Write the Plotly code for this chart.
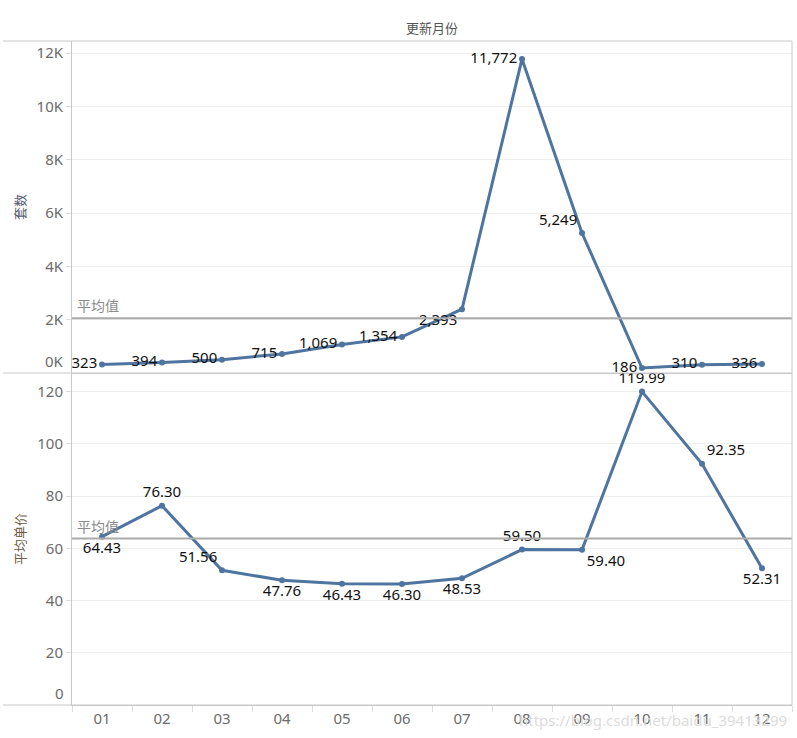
import numpy as np
import plotly.graph_objects as go
from plotly.subplots import make_subplots

months = ["01", "02", "03", "04", "05", "06", "07", "08", "09", "10", "11", "12"]
counts = [323, 394, 500, 715, 1069, 1354, 2393, 11772, 5249, 186, 310, 336]
prices = [64.43, 76.30, 51.56, 47.76, 46.43, 46.30, 48.53, 59.50, 59.40, 119.99, 92.35, 52.31]

count_ticks = [2000, 4000, 6000, 8000, 10000, 12000]
count_tick_text = ["2K", "4K", "6K", "8K", "10K", "12K"]
price_ticks = [20, 40, 60, 80, 100, 120]

count_label_pos = ["middle left"] * 6 + ["bottom left", "middle left", "top left",
                                         "middle left", "middle left", "middle left"]
price_label_pos = ["bottom center", "top center", "top left", "bottom center", "bottom center",
                   "bottom center", "bottom center", "top center", "bottom right", "top center",
                   "top right", "bottom center"]

LINE = "#4e74a0"
GRAY_TXT = "#6b6b6b"
BORDER = "#c8c8c8"
GRID = "#efefef"
FONT = "Noto Sans, Noto Sans CJK SC, sans-serif"

fig = make_subplots(rows=2, cols=1, shared_xaxes=True, vertical_spacing=0)

fig.add_trace(go.Scatter(
    x=months, y=counts, mode="lines+markers+text",
    line=dict(color=LINE, width=3), marker=dict(color=LINE, size=6),
    text=[f"{v:,}" for v in counts], textposition=count_label_pos,
    textfont=dict(color="#111111", size=15, family=FONT),
    cliponaxis=False, showlegend=False), row=1, col=1)

fig.add_trace(go.Scatter(
    x=months, y=prices, mode="lines+markers+text",
    line=dict(color=LINE, width=3), marker=dict(color=LINE, size=6),
    text=[f"{v:.2f}" for v in prices], textposition=price_label_pos,
    textfont=dict(color="#111111", size=15, family=FONT),
    cliponaxis=False, showlegend=False), row=2, col=1)

axis_common = dict(showline=True, linecolor=BORDER, linewidth=1, zeroline=False)

fig.update_xaxes(type="category", range=[-0.5, 11.5], showgrid=False, **axis_common)
fig.update_xaxes(showticklabels=False, ticks="", row=1, col=1)
fig.update_xaxes(showticklabels=True, ticks="outside", tickson="boundaries", ticklen=6,
                 tickcolor="#dddddd", tickfont=dict(size=15, color=GRAY_TXT, family=FONT),
                 row=2, col=1)

fig.update_yaxes(range=[0, 12450], tickvals=count_ticks, ticktext=count_tick_text,
                 showgrid=True, gridcolor=GRID, ticks="outside", ticklen=5, tickcolor="#dddddd",
                 tickfont=dict(size=15, color=GRAY_TXT, family=FONT), **axis_common, row=1, col=1)
fig.update_yaxes(range=[0, 127.1], tickvals=price_ticks,
                 showgrid=True, gridcolor=GRID, ticks="outside", ticklen=5, tickcolor="#dddddd",
                 tickfont=dict(size=15, color=GRAY_TXT, family=FONT), **axis_common, row=2, col=1)

# average reference lines
mean_count = float(np.mean(counts))
mean_price = float(np.mean(prices))
for yref, m in (("y", mean_count), ("y2", mean_price)):
    fig.add_shape(type="line", xref="paper", x0=0, x1=1, yref=yref, y0=m, y1=m,
                  line=dict(color="#aaaaaa", width=2))
    fig.add_annotation(xref="paper", x=0, yref=yref, y=m, text="平均值", showarrow=False,
                       xanchor="left", yanchor="bottom", xshift=3, yshift=1,
                       font=dict(size=14, color="#8a8a8a", family=FONT))

# zero tick labels (shifted up inside the panel)
fig.add_annotation(xref="paper", x=0, yref="y", y=0, text="0K", showarrow=False,
                   xanchor="right", yanchor="bottom", xshift=-6, yshift=0,
                   font=dict(size=15, color=GRAY_TXT, family=FONT))
fig.add_annotation(xref="paper", x=0, yref="y2", y=0, text="0", showarrow=False,
                   xanchor="right", yanchor="bottom", xshift=-6, yshift=0,
                   font=dict(size=15, color=GRAY_TXT, family=FONT))

# frame lines
x_left = (3 - 72) / 720
for yy in (0, 0.5, 1):
    fig.add_shape(type="line", xref="paper", yref="paper", x0=x_left, x1=1, y0=yy, y1=yy,
                  line=dict(color=BORDER, width=1))
fig.add_shape(type="line", xref="paper", yref="paper", x0=1, x1=1, y0=0, y1=1,
              line=dict(color=BORDER, width=1))

# titles
fig.add_annotation(xref="paper", yref="paper", x=0.5, y=1, yshift=2, text="更新月份",
                   showarrow=False, yanchor="bottom", xanchor="center",
                   font=dict(size=13, color="#555555", family=FONT))
fig.add_annotation(xref="paper", yref="paper", x=(20 - 72) / 720, y=0.75, text="套数",
                   showarrow=False, textangle=-90, xanchor="center", yanchor="middle",
                   font=dict(size=13, color="#555a70", family=FONT))
fig.add_annotation(xref="paper", yref="paper", x=(20 - 72) / 720, y=0.25, text="平均单价",
                   showarrow=False, textangle=-90, xanchor="center", yanchor="middle",
                   font=dict(size=13, color="#6a5a40", family=FONT))

# watermark
fig.add_annotation(xref="paper", yref="paper", x=1, y=0, xanchor="right", yanchor="top",
                   yshift=-3, xshift=-3, text="https://blog.csdn.net/baidu_39413299",
                   showarrow=False, font=dict(size=15, color="#dcdcdc", family=FONT))

fig.update_layout(width=797, height=738, margin=dict(l=72, r=5, t=41, b=33),
                  plot_bgcolor="white", paper_bgcolor="white",
                  font=dict(family=FONT))

fig.write_html("out.html")
